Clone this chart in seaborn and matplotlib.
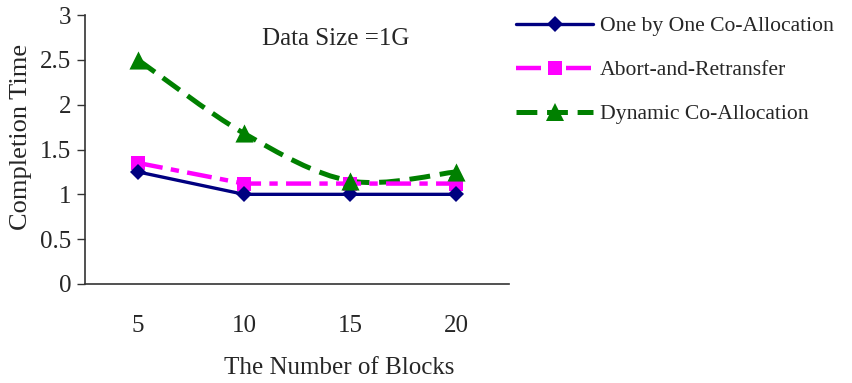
import numpy as np
import pandas as pd
import matplotlib
matplotlib.use("Agg")
import matplotlib.pyplot as plt
from matplotlib.path import Path
from matplotlib.patches import PathPatch
from matplotlib.lines import Line2D
import seaborn as sns

blocks = ["5", "10", "15", "20"]
one_by_one = [1.25, 1.0, 1.0, 1.0]
abort_retransfer = [1.35, 1.12, 1.12, 1.12]
dynamic = [2.5, 1.68, 1.15, 1.25]
series_names = ["One by One Co-Allocation", "Abort-and-Retransfer", "Dynamic Co-Allocation"]
y_ticks = [0, 0.5, 1, 1.5, 2, 2.5, 3]
y_tick_labels = ["0", "0.5", "1", "1.5", "2", "2.5", "3"]

sns.set_theme(style="white")
plt.rcParams["font.family"] = ["Liberation Serif", "DejaVu Serif"]
plt.rcParams["lines.scale_dashes"] = False

navy, magenta, green = "#000080", "#FF00FF", "#008000"

fig = plt.figure(figsize=(8.53, 3.83), dpi=100)
ax = fig.add_axes([0.0997, 0.2585, 0.497, 0.7023])

pos = np.arange(len(blocks))
df = pd.DataFrame({"pos": np.concatenate([pos, pos]),
                   "value": one_by_one + abort_retransfer,
                   "series": [series_names[0]] * 4 + [series_names[1]] * 4})

sns.lineplot(data=df[df.series == series_names[0]], x="pos", y="value", ax=ax,
             color=navy, lw=2.4, marker="D", markersize=8.5, markeredgewidth=0,
             legend=False, zorder=3)
sns.lineplot(data=df[df.series == series_names[1]], x="pos", y="value", ax=ax,
             color=magenta, lw=3.2, marker="s", markersize=10, markeredgewidth=0,
             legend=False, zorder=2)
ax.lines[-1].set_dashes([18, 6, 6, 6])

# smoothed curve through the dynamic series (cubic Bezier, Catmull-Rom style)
pts = np.column_stack([pos, dynamic]).astype(float)
ext = np.vstack([pts[0], pts, pts[-1]])
verts = [tuple(pts[0])]
codes = [Path.MOVETO]
for i in range(len(pts) - 1):
    p0, p1, p2, p3 = ext[i], ext[i + 1], ext[i + 2], ext[i + 3]
    c1 = p1 + (p2 - p0) / 6.0
    c2 = p2 - (p3 - p1) / 6.0
    verts += [tuple(c1), tuple(c2), tuple(p2)]
    codes += [Path.CURVE4] * 3
curve = PathPatch(Path(verts, codes), fill=False, edgecolor=green, lw=3.6,
                  linestyle=(0, (15, 7)), zorder=1)
ax.add_patch(curve)
sns.scatterplot(x=pos, y=dynamic, ax=ax, color=green, marker="^", s=170,
                linewidth=0, zorder=4)

ax.set_xlim(-0.5, 3.5)
ax.set_ylim(0, 3)
ax.set_yticks(y_ticks)
ax.set_yticklabels(y_tick_labels, fontsize=18)
ax.set_xticks(np.arange(-0.5, 4, 1.0))
ax.set_xticklabels([])
ax.set_xticks(pos, minor=True)
ax.set_xticklabels(blocks, minor=True, fontsize=18)
ax.tick_params(axis="x", which="major", direction="in", length=7, width=1, color="#333333")
ax.tick_params(axis="x", which="minor", length=0, pad=22)
ax.tick_params(axis="y", direction="out", length=6, width=1, color="#333333", pad=4, left=True)

for s in ["top", "right"]:
    ax.spines[s].set_visible(False)
for s in ["left", "bottom"]:
    ax.spines[s].set_color("#333333")
    ax.spines[s].set_linewidth(1.2)

ax.set_xlabel("The Number of Blocks", fontsize=18)
ax.xaxis.label.set_va("center")
ax.xaxis.set_label_coords(0.60, -0.312, transform=ax.transAxes)
ax.set_ylabel("Completion Time", fontsize=19)
ax.yaxis.label.set_va("center")
ax.yaxis.set_label_coords(-0.15, 0.546, transform=ax.transAxes)
ax.text(0.592, 0.91, "Data Size =1G", transform=ax.transAxes, ha="center", va="center", fontsize=18)

handles = [
    Line2D([], [], color=navy, lw=2.4, marker="D", markersize=8.5, markeredgewidth=0),
    Line2D([], [], color=magenta, lw=3.2, marker="s", markersize=10, markeredgewidth=0,
           dashes=[18, 6, 6, 6]),
    Line2D([], [], color=green, lw=3.6, marker="^", markersize=13, markeredgewidth=0,
           dashes=[15, 7]),
]
fig.legend(handles, series_names, loc="upper left", bbox_to_anchor=(0.595, 0.98),
           frameon=False, fontsize=15.6, handlelength=3.55, labelspacing=1.1,
           handletextpad=0.3, borderaxespad=0)

fig.savefig("out.png", dpi=100)
